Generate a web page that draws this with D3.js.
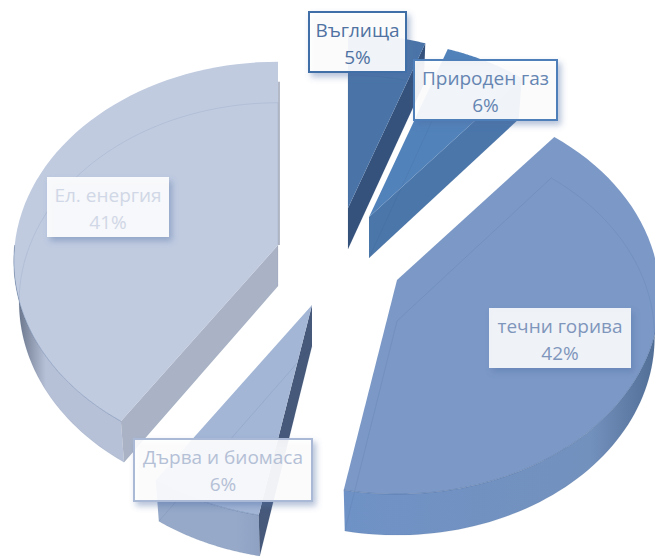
<!DOCTYPE html>
<html><head><meta charset="utf-8">
<script src="https://cdn.jsdelivr.net/npm/d3@7"></script>
<style>html,body{margin:0;background:#fff}svg{display:block}</style>
</head><body>
<script>
const categories = ["Въглища","Природен газ","течни горива","Дърва и биомаса","Ел. енергия"];
const values = [5.4,5.6,42,6.4,40.6];
const topColors = ["#4a74a8","#5282ba","#7b98c6","#a3b6d6","#c0cbe0"];
const wallLight = ["#4a76a8","#4f7cb0","#7391bd","#96a9c9","#b6c0d6"];
const wallEdge  = ["#35547e","#3f6594","#4f6c94","#8fa2c4","#5e6a80"];
const wallStart = ["#4a76a8","#4f7cb0","#6f92c6","#96a9c9","#5e6a80"];
const faceColors = ["#35527c","#4a76aa","#6a8cc0","#46597a","#aab3c6"];
const textColors = ["#4f72a2","#6585b2","#7f96bc","#b4c0d6","#d0d7e6"];
const borderColors = ["#3f6ea6","#4f7fb8","none","#a9b9d6","none"];
const apexes = [[348,208],[369,217],[397,280],[312,305],[278,245]];
const radialScale = [0.95,0.97,1,1,1.005];
const labelBoxes = [[309,12,97,60],[414,60,143,60],[489,308,142,60],[134,439,178,62],[47,177,122,60]];

const W=655,H=558,Rx=262,Ry=197,P=0.08,DEPTH=41,BOTTOM_X=0.98;
const svg=d3.select("body").append("svg").attr("width",W).attr("height",H);
const defs=svg.append("defs");
const sh=defs.append("filter").attr("id","sh").attr("x","-20%").attr("y","-20%").attr("width","140%").attr("height","150%");
sh.append("feDropShadow").attr("dx",3).attr("dy",4).attr("stdDeviation",3).attr("flood-color","#4f6fa5").attr("flood-opacity",0.45);

const pie=d3.pie().sort(null).value(d=>d);
const arcs=pie(values);
const pt=(i,a,down)=>{
  const apex=apexes[i],r=radialScale[i];
  const Z=r*Math.cos(a),X=r*Math.sin(a),f=1/(1+P*Z);
  return [apex[0]+X*Rx*f*(down?BOTTOM_X:1), apex[1]-Z*Ry*f+(down?DEPTH:0)];
};
const line=d3.line();
const arcAngles=(a0,a1)=>d3.range(0,61).map(i=>a0+(a1-a0)*i/60);
const order=[0,1,4,3,2];

const face=(parent,i,a)=>{
  const ap=apexes[i],apD=[ap[0],ap[1]+DEPTH];
  parent.append("path").attr("d",line([ap,pt(i,a,false),pt(i,a,true),apD])+"Z").attr("fill",faceColors[i]);
};

order.forEach(i=>{
  const d=arcs[i],ap=apexes[i],a0=d.startAngle,a1=d.endAngle;
  const g=svg.append("g");
  const s=Math.max(a0,Math.PI/2),e=Math.min(a1,3*Math.PI/2);
  if(e>s){
    const as=arcAngles(s,e);
    const tp=as.map(a=>pt(i,a,false)),bt=as.map(a=>pt(i,a,true)).reverse();
    const gid="w"+i,xs=tp.map(p=>p[0]);
    const lg=defs.append("linearGradient").attr("id",gid).attr("gradientUnits","userSpaceOnUse")
      .attr("x1",d3.min(xs)).attr("x2",d3.max(xs)).attr("y1",0).attr("y2",0);
    if(i===4){
      lg.append("stop").attr("offset",0).attr("stop-color",wallEdge[i]);
      lg.append("stop").attr("offset",0.3).attr("stop-color",wallLight[i]);
      lg.append("stop").attr("offset",1).attr("stop-color",wallLight[i]);
    }else{
      lg.append("stop").attr("offset",0).attr("stop-color",wallStart[i]);
      lg.append("stop").attr("offset",0.78).attr("stop-color",wallLight[i]);
      lg.append("stop").attr("offset",1).attr("stop-color",wallEdge[i]);
    }
    g.append("path").attr("d",line(tp.concat(bt))+"Z").attr("fill",`url(#${gid})`);
  }
  // exposed radial face: end face of coal and gas, start face of wood and electricity
  if(i===3||i===4) face(g,i,a0);
  if(i===0||i===1) face(g,i,a1);
  const as=arcAngles(a0,a1);
  g.append("path").attr("d",line([ap].concat(as.map(a=>pt(i,a,false))))+"Z").attr("fill",topColors[i]);
  // seam along the front rim
  if(e>s) g.append("path").attr("d",line(arcAngles(s,e).map(a=>pt(i,a,false))))
    .attr("fill","none").attr("stroke","#3f5f8f").attr("stroke-opacity",0.35).attr("stroke-width",1);
  // faint see-through bottom outline
  const apD=[ap[0],ap[1]+DEPTH];
  g.append("path").attr("d",line([apD].concat(as.map(a=>pt(i,a,true))))+"Z")
    .attr("fill","none").attr("stroke","#2f4a70").attr("stroke-opacity",0.12).attr("stroke-width",0.8);
  // dark sliver of the electricity slice's edge-on end face
  if(i===4){
    g.append("line").attr("x1",ap[0]+1).attr("x2",ap[0]+1).attr("y1",pt(i,a1,false)[1]+20).attr("y2",ap[1])
      .attr("stroke","#4a5a78").attr("stroke-width",1.2).attr("stroke-opacity",0.7);
  }
});

categories.forEach((c,i)=>{
  const [x,y,w,h]=labelBoxes[i];
  const g=svg.append("g");
  g.append("rect").attr("x",x).attr("y",y).attr("width",w).attr("height",h)
   .attr("fill","#fff").attr("fill-opacity",i===2?0.87:0.9).attr("filter","url(#sh)")
   .attr("stroke",borderColors[i]).attr("stroke-width",borderColors[i]==="none"?0:2);
  const t=g.append("text").attr("text-anchor","middle").attr("font-family","'Open Sans','Noto Sans',sans-serif")
   .attr("font-size",19).attr("fill",textColors[i]);
  t.append("tspan").attr("x",x+w/2).attr("y",y+25).text(c);
  t.append("tspan").attr("x",x+w/2).attr("y",y+52).text(Math.round(values[i])+"%");
});
</script>
</body></html>
